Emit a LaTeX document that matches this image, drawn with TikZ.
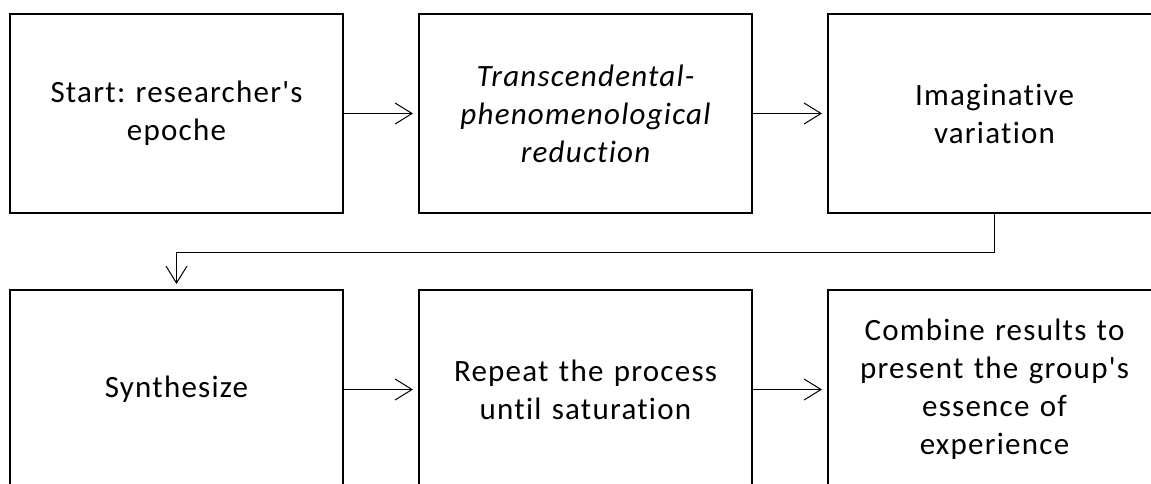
\documentclass[tikz,border=0pt]{standalone}
\usepackage{fontspec}
\newfontfamily\boxfont[Ligatures={NoCommon,NoRequired,NoContextual},LetterSpace=4]{Carlito}
\usetikzlibrary{arrows.meta}
\tikzset{
  stepbox/.style={draw=black, line width=2pt, minimum width=333pt, minimum height=199pt,
    inner sep=0pt, outer sep=0pt, align=center, text width=325pt,
    font=\boxfont\fontsize{31}{38}\selectfont},
  conn/.style={draw=black, line width=1pt, -{Straight Barb[length=17pt,width=21pt,line width=1pt]}, shorten >=6pt}
}
\frenchspacing
\begin{document}
\begin{tikzpicture}[x=1pt,y=-1pt]
\useasboundingbox (0,0) rectangle (1151,484);
\node[stepbox] (b1) at (176.5,113.5) {Start: researcher's\\epoche};
\node[stepbox] (b2) at (585.5,113.5) {\itshape Transcendental-\\\itshape phenomenological\\\itshape reduction};
\node[stepbox] (b3) at (994.5,113.5) {Imaginative\\variation};
\node[stepbox] (b4) at (176.5,389.5) {Synthesize};
\node[stepbox] (b5) at (585.5,389.5) {Repeat the process\\until saturation};
\node[stepbox] (b6) at (994.5,389.5) {Combine results to\\present the group's\\essence of\\experience};
\draw[conn] (b1) -- (b2);
\draw[conn] (b2) -- (b3);
\draw[conn] (b4) -- (b5);
\draw[conn] (b5) -- (b6);
\coordinate (turn) at (994.5,252);
\draw[conn] (b3.south) -- (turn) -| (b4.north);
\end{tikzpicture}
\end{document}
